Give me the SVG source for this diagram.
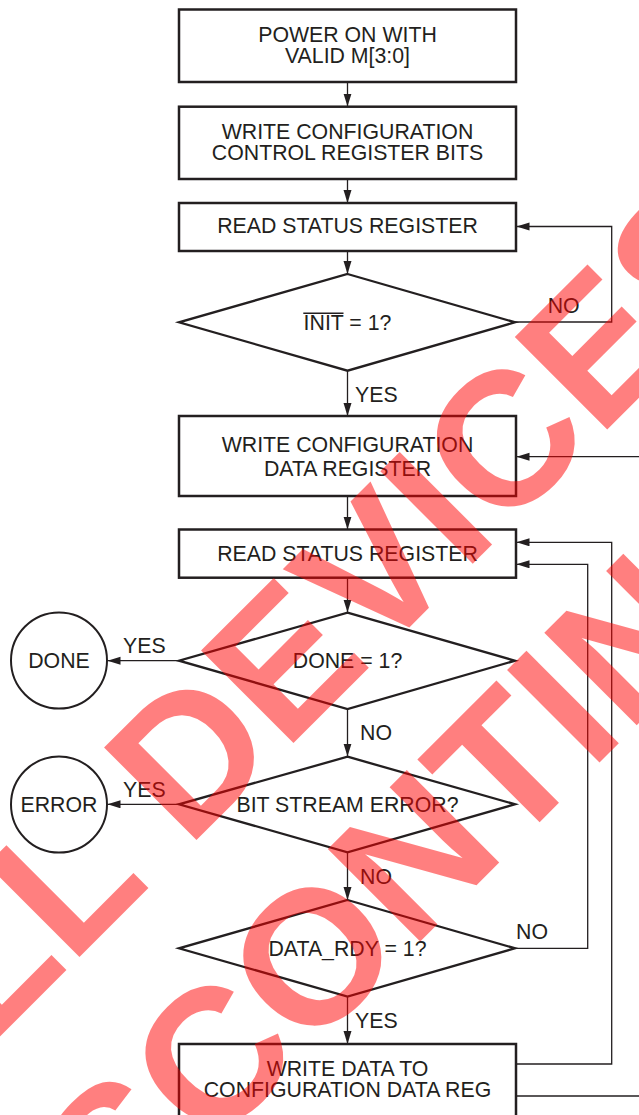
<svg xmlns="http://www.w3.org/2000/svg" width="639" height="1115" viewBox="0 0 639 1115">
<style>
  .box { fill: #ffffff; stroke: #231f20; stroke-width: 2.5; }
  .dia { fill: #ffffff; stroke: #231f20; stroke-width: 2.3; stroke-linejoin: miter; }
  .term { fill: #ffffff; stroke: #231f20; stroke-width: 2; }
  .t { font-family: "Liberation Sans", Arial, Helvetica, sans-serif; font-size: 21.3px; fill: #231f20; }
  .c { text-anchor: middle; }
  .conn { fill: none; stroke: #231f20; stroke-width: 1.3; }
  .wm { font-family: "Liberation Sans", Arial, Helvetica, sans-serif; font-size: 190px; font-weight: bold; fill: #ff0000; fill-opacity: 0.5; text-anchor: middle; }
</style>
<defs>
  <marker id="arr" markerUnits="userSpaceOnUse" markerWidth="14" markerHeight="9" refX="13" refY="4" orient="auto">
    <path d="M0,0 L13,4 L0,8 z" fill="#231f20"/>
  </marker>
</defs>
<rect width="639" height="1115" fill="#ffffff"/>

<g id="connectors">
  <path class="conn" d="M347.5,82 V106.5" marker-end="url(#arr)"/>
  <path class="conn" d="M347.5,179 V203" marker-end="url(#arr)"/>
  <path class="conn" d="M347.5,251 V274" marker-end="url(#arr)"/>
  <path class="conn" d="M515,322 H611.7 V226.5 H516.5" marker-end="url(#arr)"/>
  <path class="conn" d="M347.5,371 V416" marker-end="url(#arr)"/>
  <path class="conn" d="M640,456.7 H516.5" marker-end="url(#arr)"/>
  <path class="conn" d="M347.5,496 V529.5" marker-end="url(#arr)"/>
  <path class="conn" d="M347.5,578 V612.5" marker-end="url(#arr)"/>
  <path class="conn" d="M179,660.7 H107.5" marker-end="url(#arr)"/>
  <path class="conn" d="M347.5,709 V756.5" marker-end="url(#arr)"/>
  <path class="conn" d="M179,804.3 H107.5" marker-end="url(#arr)"/>
  <path class="conn" d="M347.5,852.3 V900" marker-end="url(#arr)"/>
  <path class="conn" d="M515,948.3 H587.7 V564.3 H516.5" marker-end="url(#arr)"/>
  <path class="conn" d="M347.5,996.5 V1044" marker-end="url(#arr)"/>
  <path class="conn" d="M516,1064 H611.7 V542.3 H516.5" marker-end="url(#arr)"/>
  <path class="conn" d="M516,1096 H640"/>
  <text class="t" x="547.7" y="313.3">NO</text>
  <text class="t" x="355" y="401.7">YES</text>
  <text class="t" x="123" y="652.7">YES</text>
  <text class="t" x="360" y="740">NO</text>
  <text class="t" x="123" y="797.3">YES</text>
  <text class="t" x="360" y="884">NO</text>
  <text class="t" x="516" y="939.3">NO</text>
  <text class="t" x="355" y="1028.3">YES</text>
</g>

<g id="power-on">
  <rect class="box" x="179" y="9.5" width="337" height="72.5"/>
  <text class="t c" x="347.5" y="41.7">POWER ON WITH</text>
  <text class="t c" x="347.5" y="63">VALID M[3:0]</text>
</g>
<g id="write-control">
  <rect class="box" x="179" y="106.7" width="337" height="72.3"/>
  <text class="t c" x="347.5" y="139.3">WRITE CONFIGURATION</text>
  <text class="t c" x="347.5" y="160">CONTROL REGISTER BITS</text>
</g>
<g id="read-status-1">
  <rect class="box" x="179" y="203" width="337" height="48"/>
  <text class="t c" x="347.5" y="233.3">READ STATUS REGISTER</text>
</g>
<g id="init-check">
  <polygon class="dia" points="347.5,274 515,322.3 347.5,370.7 179,322.3"/>
  <text class="t c" x="347.5" y="330">INIT = 1?</text>
  <line x1="303.3" y1="313.2" x2="343.5" y2="313.2" stroke="#231f20" stroke-width="1.4"/>
</g>
<g id="write-data-register">
  <rect class="box" x="179" y="416" width="337" height="80"/>
  <text class="t c" x="347.5" y="451.7">WRITE CONFIGURATION</text>
  <text class="t c" x="347.5" y="476">DATA REGISTER</text>
</g>
<g id="read-status-2">
  <rect class="box" x="179" y="529.5" width="337" height="48.2"/>
  <text class="t c" x="347.5" y="560.7">READ STATUS REGISTER</text>
</g>
<g id="done-check">
  <polygon class="dia" points="347.5,612.7 515,660.7 347.5,709 179,660.7"/>
  <text class="t c" x="347.5" y="668">DONE = 1?</text>
</g>
<g id="done">
  <circle class="term" cx="59" cy="660.5" r="48"/>
  <text class="t c" x="59" y="667.7">DONE</text>
</g>
<g id="error-check">
  <polygon class="dia" points="347.5,756.7 515,804.3 347.5,852.3 179,804.3"/>
  <text class="t c" x="347.5" y="812">BIT STREAM ERROR?</text>
</g>
<g id="error">
  <circle class="term" cx="59" cy="804.5" r="48"/>
  <text class="t c" x="59" y="812">ERROR</text>
</g>
<g id="data-rdy-check">
  <polygon class="dia" points="347.5,900 515,948.3 347.5,996.5 179,948.3"/>
  <text class="t c" x="347.5" y="955.7">DATA_RDY = 1?</text>
</g>
<g id="write-data">
  <rect class="box" x="179" y="1044" width="337" height="90"/>
  <text class="t c" x="347.5" y="1075.7">WRITE DATA TO</text>
  <text class="t c" x="347.5" y="1096.7">CONFIGURATION DATA REG</text>
</g>

<g id="watermark" transform="rotate(-45)">
  <text class="wm" x="-260" y="733">ALL DEVICES</text>
  <text class="wm" x="-260" y="963">DISCONTINUED</text>
</g>
</svg>
